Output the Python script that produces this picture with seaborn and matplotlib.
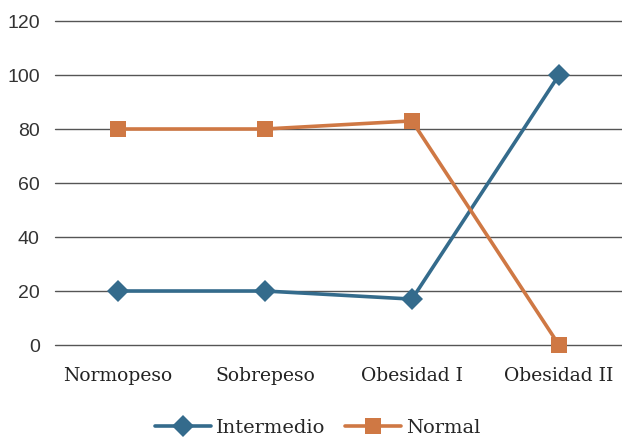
import matplotlib
matplotlib.use("Agg")
import matplotlib.pyplot as plt
import seaborn as sns
import pandas as pd

categorias = ["Normopeso", "Sobrepeso", "Obesidad I", "Obesidad II"]
intermedio = [20, 20, 17, 100]
normal = [80, 80, 83, 0]
y_ticks = [0, 20, 40, 60, 80, 100, 120]

df = pd.DataFrame({
    "categoria": categorias * 2,
    "valor": intermedio + normal,
    "serie": ["Intermedio"] * len(categorias) + ["Normal"] * len(categorias),
})
df["pos"] = df["categoria"].map({c: i for i, c in enumerate(categorias)})

sns.set_theme(style="white")
plt.rcParams["font.family"] = ["DejaVu Sans"]

colores = {"Intermedio": "#346B8C", "Normal": "#CF7844"}
marcadores = {"Intermedio": "D", "Normal": "s"}
tamanos = {"Intermedio": 11, "Normal": 11.5}

fig = plt.figure(figsize=(6.22, 4.38), dpi=100)
ax = fig.add_axes([55 / 622, 93 / 438, 567 / 622, 324 / 438])

for serie in ["Intermedio", "Normal"]:
    sub = df[df["serie"] == serie]
    sns.lineplot(data=sub, x="pos", y="valor", ax=ax, color=colores[serie],
                 linewidth=2.6, marker=marcadores[serie],
                 markersize=tamanos[serie], markeredgewidth=0,
                 label=serie, zorder=3)

ax.set_xlim(-0.4286, 3.4286)
ax.set_ylim(0, 120)
ax.set_yticks(y_ticks)
ax.set_xticks(range(len(categorias)))
ax.set_xticklabels(categorias, family="DejaVu Serif", fontsize=13.5, color="#222222")
ax.tick_params(axis="x", length=0, pad=16)
ax.tick_params(axis="y", length=0, pad=11, labelsize=14, labelcolor="#333333")
for lab in ax.get_yticklabels():
    lab.set_family("Liberation Sans")
ax.grid(axis="y", color="#555555", linewidth=1.0)
ax.set_axisbelow(True)
for g in ax.get_ygridlines():
    g.set_clip_on(False)
for s in ax.spines.values():
    s.set_visible(False)
ax.set_xlabel("")
ax.set_ylabel("")
for line in ax.lines:
    line.set_clip_on(False)

ax.legend(loc="center", bbox_to_anchor=(318 / 622, 10 / 438),
          bbox_transform=fig.transFigure, ncol=2, frameon=False,
          prop={"family": "DejaVu Serif", "size": 14},
          handlelength=2.85, columnspacing=1.0, handletextpad=0.3)

fig.savefig("out.png", dpi=100)
